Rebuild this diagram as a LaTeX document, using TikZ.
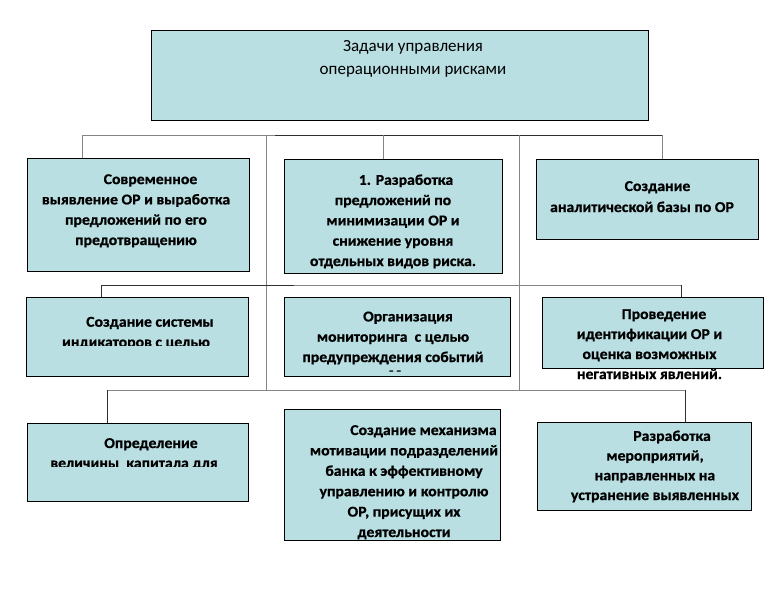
\documentclass[tikz,border=0pt]{standalone}
\usepackage{fontspec}
\setmainfont{Carlito}[BoldFeatures={FakeBold=0.8,FakeStretch=1.05}]
\definecolor{boxfill}{HTML}{B9DFE3}
\definecolor{lncol}{HTML}{303030}
\definecolor{lgcol}{HTML}{858585}
\newcommand{\firstln}[2]{\hspace*{#1pt}#2\hspace*{-#1pt}}
\begin{document}
\begin{tikzpicture}[x=1pt,y=-1pt,
  box/.style={draw=black, fill=boxfill, line width=0.9pt, inner sep=0pt},
  txt/.style={font=\bfseries\fontsize{15}{20.3}\selectfont, align=center, inner sep=0pt, anchor=base},
  ln/.style={draw=lncol, line width=1pt},
  lg/.style={draw=lgcol, line width=1pt}]
\useasboundingbox (0,0) rectangle (780,595);
% coordinates of connector buses
\coordinate (b1l) at (82,135);
\coordinate (b1m) at (275,135);
\coordinate (b1c) at (383,135);
\coordinate (b1r) at (662,135);
\coordinate (v1t) at (266,135);
\coordinate (v1b) at (266,390);
\coordinate (v2t) at (519,135);
\coordinate (v2b) at (519,390);
\coordinate (b2l) at (101,285);
\coordinate (b2m) at (294,285);
\coordinate (b2r) at (681,285);
\coordinate (b3l) at (107,390);
\coordinate (b3r) at (685,390);
% boxes
\node[box, minimum width=497pt, minimum height=90pt] (top) at (399.5,75) {};
\node[box, minimum width=222pt, minimum height=113pt] (A) at (138,214.5) {};
\node[box, minimum width=218pt, minimum height=114pt] (B) at (393,216) {};
\node[box, minimum width=222pt, minimum height=80pt] (C) at (647,199) {};
\node[box, minimum width=222pt, minimum height=79pt] (D) at (137,336.5) {};
\node[box, minimum width=226pt, minimum height=79pt] (E) at (397,336.5) {};
\node[box, minimum width=221pt, minimum height=71pt] (F) at (652.5,332.5) {};
\node[box, minimum width=221pt, minimum height=78pt] (G) at (137.5,462) {};
\node[box, minimum width=216pt, minimum height=131pt] (H) at (392,474.5) {};
\node[box, minimum width=214pt, minimum height=88pt] (I) at (644,466) {};
% connectors
\draw[lg] (b1l) -- (b1m);
\draw[ln] (b1m) -- (b1r);
\draw[lg] (b1l) -- (b1l |- A.north);
\draw[lg] (b1c) -- (b1c |- B.north);
\draw[lg] (b1r) -- (b1r |- C.north);
\draw[lg] (v1t) -- (v1b);
\draw[lg] (v2t) -- (v2b);
\draw[ln] (b2l) -- (b2m);
\draw[lg] (b2m) -- (b2r);
\draw[ln] (b2l) -- (b2l |- D.north);
\draw[ln] (b2r) -- (b2r |- F.north);
\draw[lg] (b3l) -- (b3r);
\draw[ln] (b3l) -- (b3l |- G.north);
\draw[ln] (b3r) -- (b3r |- I.north);
% texts (anchor = baseline of the last line)
\node[txt, font=\fontsize{17}{23}\selectfont] (topT) at (413,74) {Задачи управления\\операционными рисками};
\node[txt] (AT) at (136,245) {\firstln{14.5}{Современное}\\выявление ОР и выработка\\предложений по его\\предотвращению};
\node[txt] (BT) at (393,266) {\firstln{13}{1. Разработка}\\предложений по\\минимизации ОР и\\снижение уровня\\отдельных видов риска.};
\node[txt, font=\bfseries\fontsize{15}{21}\selectfont] (CT) at (642,212) {\firstln{15.5}{Создание}\\аналитической базы по ОР};
\begin{scope}
\clip (D.north west) rectangle (D.east |- 0,345);
\node[txt] (DT) at (136,347) {\firstln{14}{Создание системы}\\индикаторов с целью};
\end{scope}
\node[txt] (ET) at (393,362) {\firstln{15}{Организация}\\мониторинга\ \ с целью\\предупреждения событий};
\node[txt, font=\bfseries\fontsize{10}{12}\selectfont] (ET2) at (395,374) {– –};
\node[txt, font=\bfseries\fontsize{15}{20}\selectfont] (FT) at (649.5,379) {\firstln{14.5}{Проведение}\\идентификации ОР и\\оценка возможных\\негативных явлений.};
\begin{scope}
\clip (G.north west) rectangle (G.east |- 0,466);
\node[txt, font=\bfseries\fontsize{15}{20}\selectfont] (GT) at (134,468) {\firstln{17}{Определение}\\величины\ \ капитала для};
\end{scope}
\node[txt, font=\bfseries\fontsize{15}{20.4}\selectfont] (HT) at (404,537) {\firstln{19.5}{Создание механизма}\\мотивации подразделений\\банка к эффективному\\управлению и контролю\\ОР, присущих их\\деятельности};
\node[txt, font=\bfseries\fontsize{15}{19.7}\selectfont] (IT) at (655,500) {\firstln{17}{Разработка}\\мероприятий,\\направленных на\\устранение выявленных};
\end{tikzpicture}
\end{document}
